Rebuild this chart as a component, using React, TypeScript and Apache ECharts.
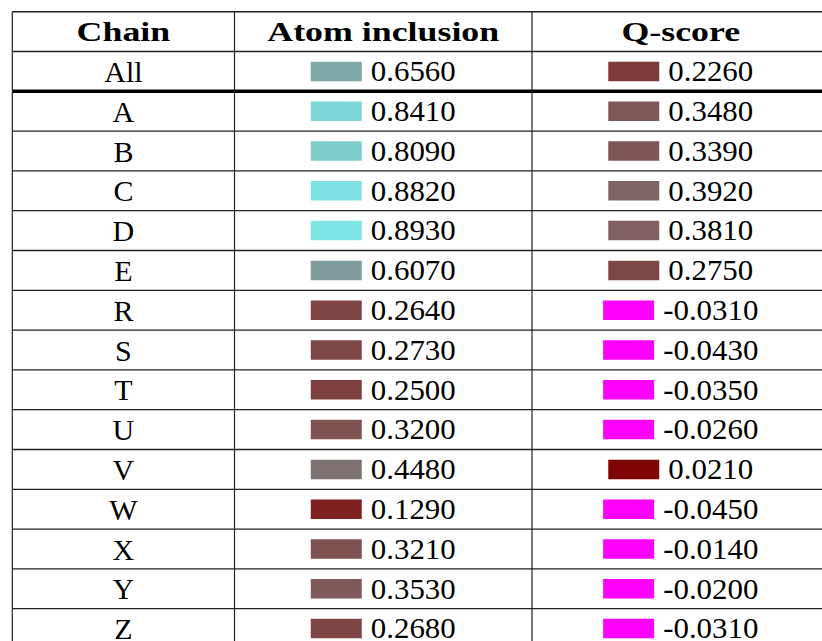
import { useEffect, useRef } from "react";
import * as echarts from "echarts";

const headers = ["Chain", "Atom inclusion", "Q-score"];
const chains = ["All", "A", "B", "C", "D", "E", "R", "S", "T", "U", "V", "W", "X", "Y", "Z"];
const atomInclusion = [0.656, 0.841, 0.809, 0.882, 0.893, 0.607, 0.264, 0.273, 0.25, 0.32, 0.448, 0.129, 0.321, 0.353, 0.268];
const qScore = [0.226, 0.348, 0.339, 0.392, 0.381, 0.275, -0.031, -0.043, -0.035, -0.026, 0.021, -0.045, -0.014, -0.02, -0.031];

const rowKeys = ["header", ...chains];

// layout constants
const GRID_LEFT = 12.3;
const GRID_TOP = 11.7;
const ROW_H = 39.8;
const TABLE_W = 817.2;
const COL_EDGES = [0, 222.2, 519.7, 817.2];
const FONT = "Liberation Serif";

function swatchColor(v: number): string {
  if (v < 0) return "#ff00ff";
  const c = Math.round(255 * v);
  return `rgb(127,${c},${c})`;
}

function line(x1: number, y1: number, x2: number, y2: number, w: number, color = "#222") {
  return {
    type: "line",
    shape: { x1, y1, x2, y2 },
    style: { stroke: color, lineWidth: w },
    silent: true,
  };
}

function valueCell(cx: number, cy: number, v: number) {
  const sx = 1.03;
  return {
    type: "text",
    x: cx,
    y: cy,
    scaleX: sx,
    silent: true,
    style: {
      text: `{sw|}{gap|}{num|${v.toFixed(4)}}`,
      align: "center",
      verticalAlign: "middle",
      textAlign: "center",
      textVerticalAlign: "middle",
      fill: "#000",
      rich: {
        sw: { width: 51 / sx, height: 19.5, backgroundColor: swatchColor(v), verticalAlign: "middle" },
        gap: { width: 9 / sx, height: 10, verticalAlign: "middle" },
        num: { fontSize: 30, fontFamily: FONT, fill: "#000", verticalAlign: "middle" },
      },
    },
  };
}

export default function App() {
  const ref = useRef<HTMLDivElement>(null);
  useEffect(() => {
    if (!ref.current) return;
    const chart = echarts.init(ref.current, null, { renderer: "svg" });
    const data = rowKeys.map((_, i) => [0, i]);
    chart.setOption({
      animation: false,
      grid: {
        left: GRID_LEFT,
        top: GRID_TOP,
        width: TABLE_W,
        height: ROW_H * rowKeys.length,
        outerBoundsMode: "none",
        containLabel: false,
      },
      xAxis: { type: "value", min: 0, max: TABLE_W, show: false },
      yAxis: { type: "category", data: rowKeys, inverse: true, show: false },
      series: [
        {
          type: "custom",
          clip: false,
          data,
          encode: { x: 0, y: 1 },
          renderItem: (_params: any, api: any) => {
            const r = api.value(1) as number;
            const c = api.coord([0, r]);
            const h = api.size([0, 1])[1];
            const cy = c[1];
            const top = cy - h / 2;
            const bot = cy + h / 2;
            const xs = COL_EDGES.map((e) => api.coord([e, r])[0]);
            const children: any[] = [];
            if (r === 0) children.push(line(xs[0], top, xs[3], top, 1.5));
            const bw = r === 0 ? 1.6 : r === 1 ? 3.5 : 1.3;
            children.push(line(xs[0], bot, xs[3], bot, bw, r === 1 ? "#000" : "#222"));
            xs.forEach((x) => children.push(line(x, top, x, bot, 1.2)));
            if (r === 0) {
              headers.forEach((t, i) => {
                children.push({
                  type: "text",
                  x: (xs[i] + xs[i + 1]) / 2,
                  y: cy,
                  scaleX: 1.28,
                  silent: true,
                  style: {
                    text: t,
                    fill: "#000",
                    fontSize: 28,
                    fontWeight: "bold",
                    fontFamily: FONT,
                    align: "center",
                    verticalAlign: "middle",
                    textAlign: "center",
                    textVerticalAlign: "middle",
                  },
                });
              });
            } else {
              const k = r - 1;
              children.push({
                type: "text",
                x: (xs[0] + xs[1]) / 2,
                y: cy,
                silent: true,
                style: {
                  text: chains[k],
                  fill: "#000",
                  fontSize: 30,
                  fontFamily: FONT,
                  align: "center",
                  verticalAlign: "middle",
                  textAlign: "center",
                  textVerticalAlign: "middle",
                },
              });
              children.push(valueCell((xs[1] + xs[2]) / 2, cy, atomInclusion[k]));
              children.push(valueCell((xs[2] + xs[3]) / 2, cy, qScore[k]));
            }
            return { type: "group", children };
          },
        },
      ],
    });
    return () => chart.dispose();
  }, []);
  return (
    <div
      ref={ref}
      style={{ position: "fixed", left: 0, top: 0, width: 822, height: 641, background: "#fff" }}
    />
  );
}
